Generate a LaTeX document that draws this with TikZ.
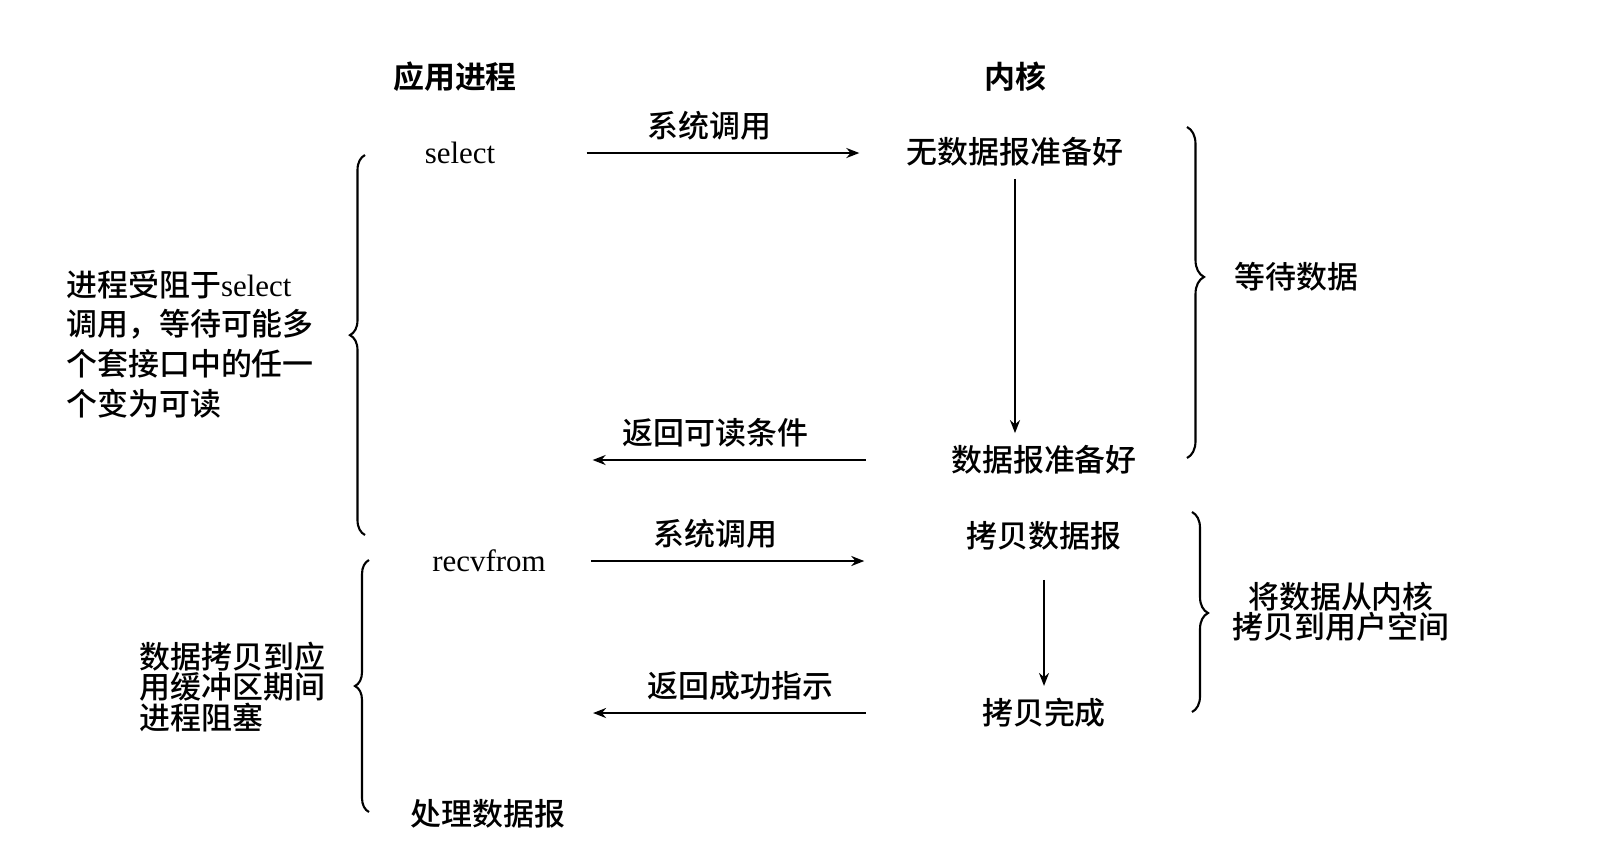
\documentclass[tikz,border=0pt]{standalone}
\usepackage{fontspec}
\setmainfont{Liberation Serif}
\newfontfamily\cjk{Noto Sans CJK SC Medium}[BoldFont={Noto Sans CJK SC Bold}]
\usepackage{tikz}
\usetikzlibrary{arrows.meta,positioning,decorations.pathreplacing,calc}

\begin{document}
\begin{tikzpicture}[>=Stealth, y=-1cm,
  zh/.style={font=\cjk\fontsize{8.8}{10.6}\selectfont},
  hd/.style={font=\cjk\bfseries\fontsize{8.8}{10.6}\selectfont},
  en/.style={font=\fontsize{8.8}{10.6}\selectfont},
  note/.style={font=\cjk\fontsize{8.8}{#1}\selectfont, align=left, anchor=west},
  arr/.style={line width=0.6pt, -{Stealth[length=1.3mm,width=1mm]}},
  brc/.style={decorate, decoration={brace, amplitude=#1}, line width=0.6pt}]
\useasboundingbox (0,0) rectangle (16.2,8.42);
\node[hd] (app) at (4.55,0.77) {应用进程};
\node[hd] (kern) at (10.15,0.77) {内核};
\node[en] (sel) at (4.60,1.53) {select};
\node[zh] (nodata) at (10.15,1.52) {无数据报准备好};
\node[zh] (ready) at (10.44,4.60) {数据报准备好};
\node[en] (recv) at (4.89,5.61) {recvfrom};
\node[zh] (copy) at (10.44,5.36) {拷贝数据报};
\node[zh] (done) at (10.44,7.13) {拷贝完成};
\node[zh] (proc) at (4.88,8.14) {处理数据报};
\node[zh, anchor=west] (wait) at (12.22,2.77) {等待数据};
\node[zh, align=center, font=\cjk\fontsize{8.8}{8.6}\selectfont] (kcopy) at (13.41,6.12) {将数据从内核\\拷贝到用户空间};
\node[note=11.3pt] (blk1) at (0.54,3.44) {进程受阻于{\rmfamily select}\\调用，等待可能多\\个套接口中的任一\\个变为可读};
\node[note=8.8pt] (blk2) at (1.27,6.87) {数据拷贝到应\\用缓冲区期间\\进程阻塞};
\draw[arr] ([xshift=0.79cm]sel.east) -- ([xshift=-0.35cm]nodata.west |- sel.east)
  node[zh, above, pos=0.45] (call1) {系统调用};
\draw[arr] ([xshift=-0.73cm]ready.west) -- ([xshift=0.85cm]ready.west -| sel.east)
  node[zh, above, pos=0.55] (ret1) {返回可读条件};
\draw[arr] ([xshift=0.33cm]recv.east) -- ([xshift=-0.90cm]copy.west |- recv.east)
  node[zh, above, pos=0.455] (call2) {系统调用};
\draw[arr] ([xshift=-1.04cm]done.west) -- ([xshift=0.35cm]done.west -| recv.east)
  node[zh, above, pos=0.46] (ret2) {返回成功指示};
\draw[arr] (nodata.south) -- (nodata.south |- ready.north);
\draw[arr] ([yshift=-0.17cm]copy.south) -- (done.north);
\coordinate (lb1t) at (3.65,1.55);
\coordinate (lb1b) at (3.65,5.35);
\coordinate (lb2t) at (3.69,5.60);
\coordinate (lb2b) at (3.69,8.12);
\coordinate (rb1t) at (11.87,1.27);
\coordinate (rb1b) at (11.87,4.58);
\coordinate (rb2t) at (11.92,5.12);
\coordinate (rb2b) at (11.92,7.12);
\draw[brc=1.5mm, decoration={aspect=0.526}] (lb1b) -- (lb1t);
\draw[brc=1.4mm, decoration={aspect=0.5}] (lb2b) -- (lb2t);
\draw[brc=1.7mm, decoration={aspect=0.453}] (rb1t) -- (rb1b);
\draw[brc=1.6mm, decoration={aspect=0.505}] (rb2t) -- (rb2b);
\end{tikzpicture}
\end{document}
